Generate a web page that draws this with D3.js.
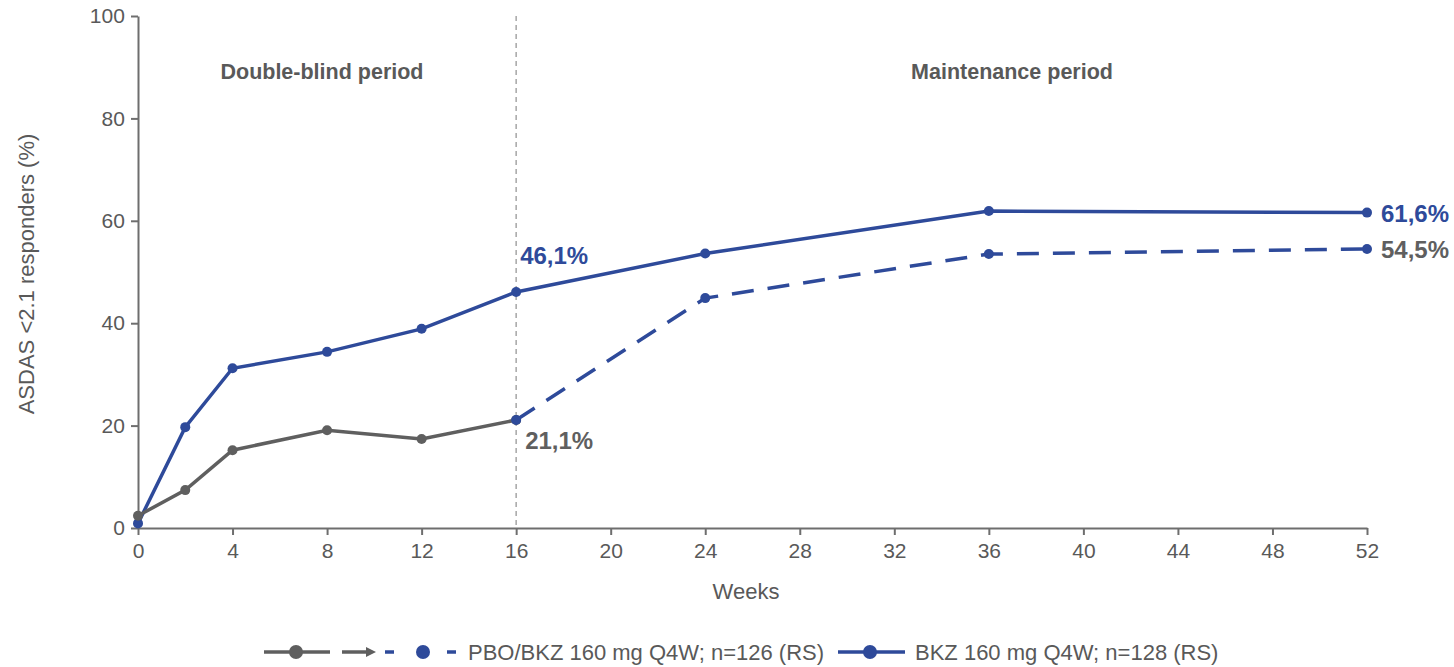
<!DOCTYPE html>
<html>
<head>
<meta charset="utf-8">
<script src="https://cdn.jsdelivr.net/npm/d3@7"></script>
<style>
  body { margin: 0; background: #fff; }
  svg text { font-family: "Liberation Sans", Arial, sans-serif; }
</style>
</head>
<body>
<div id="chart"></div>
<script>
// data
var weeksBlind = [0, 2, 4, 8, 12, 16];
var pboValues = [2.4, 7.4, 15.2, 19.1, 17.4, 21.1];
var weeksSwitch = [16, 24, 36, 52];
var pboBkzValues = [21.1, 44.9, 53.5, 54.5];
var weeksBkz = [0, 2, 4, 8, 12, 16, 24, 36, 52];
var bkzValues = [0.9, 19.7, 31.2, 34.4, 38.9, 46.1, 53.6, 61.9, 61.6];
var xTicks = [0, 4, 8, 12, 16, 20, 24, 28, 32, 36, 40, 44, 48, 52];
var yTicks = [0, 20, 40, 60, 80, 100];
var legendLabels = ["PBO/BKZ 160 mg Q4W; n=126 (RS)", "BKZ 160 mg Q4W; n=128 (RS)"];

var blue = "#2e4a9a";
var grey = "#5f5f5f";
var axisGrey = "#6e6e6e";
var textGrey = "#595959";

var width = 1454, height = 667;
var svg = d3.select("#chart").append("svg")
    .attr("width", width)
    .attr("height", height);

var x = d3.scaleLinear().domain([0, 52]).range([138, 1367]);
var y = d3.scaleLinear().domain([0, 100]).range([528, 16]);

// axes
var xAxis = d3.axisBottom(x).tickValues(xTicks).tickSize(7).tickSizeOuter(0);
var yAxis = d3.axisLeft(y).tickValues(yTicks).tickSize(7).tickSizeOuter(0);

var gx = svg.append("g").attr("transform", "translate(0," + y(0) + ")").call(xAxis);
var gy = svg.append("g").attr("transform", "translate(" + x(0) + ",0)").call(yAxis);
[gx, gy].forEach(function(g){
    g.select(".domain").attr("stroke", axisGrey).attr("stroke-width", 2);
    g.selectAll(".tick line").attr("stroke", axisGrey).attr("stroke-width", 2);
    g.selectAll(".tick text").attr("fill", textGrey).attr("font-size", 21);
});
gx.selectAll(".tick text").attr("dy", "0.95em");
gy.selectAll(".tick text").attr("dx", "-0.15em");

svg.append("text").text("Weeks")
    .attr("x", 746).attr("y", 599)
    .attr("text-anchor", "middle")
    .attr("fill", textGrey).attr("font-size", 22);
svg.append("text").text("ASDAS <2.1 responders (%)")
    .attr("transform", "translate(34," + (y(50) + 2) + ") rotate(-90)")
    .attr("text-anchor", "middle")
    .attr("fill", textGrey).attr("font-size", 22);

// separator at week 16
svg.append("line")
    .attr("x1", x(16)).attr("x2", x(16))
    .attr("y1", y(100)).attr("y2", y(0))
    .attr("stroke", "#a6a6a6").attr("stroke-width", 1.5)
    .attr("stroke-dasharray", "5,4");

svg.append("text").text("Double-blind period")
    .attr("x", 322).attr("y", 79)
    .attr("text-anchor", "middle").attr("font-weight", "bold")
    .attr("fill", textGrey).attr("font-size", 21.5);
svg.append("text").text("Maintenance period")
    .attr("x", 1012).attr("y", 79)
    .attr("text-anchor", "middle").attr("font-weight", "bold")
    .attr("fill", textGrey).attr("font-size", 21.5);

var line = d3.line()
    .x(function(d){ return x(d[0]); })
    .y(function(d){ return y(d[1]); });

function drawSeries(weeks, values, color, dash){
    var pts = weeks.map(function(w, i){ return [w, values[i]]; });
    svg.append("path").datum(pts)
        .attr("d", line)
        .attr("fill", "none")
        .attr("stroke", color)
        .attr("stroke-width", 3.5)
        .attr("stroke-dasharray", dash);
    svg.append("g").selectAll("circle").data(pts).enter()
        .append("circle")
        .attr("cx", function(d){ return x(d[0]); })
        .attr("cy", function(d){ return y(d[1]); })
        .attr("r", 5)
        .attr("fill", color);
}

drawSeries(weeksBkz, bkzValues, blue, null);
drawSeries(weeksBlind, pboValues, grey, null);
drawSeries(weeksSwitch, pboBkzValues, blue, "22,14");

// value labels
function valueLabel(txt, xv, yv, dx, dy, color){
    svg.append("text").text(txt)
        .attr("x", x(xv) + dx).attr("y", y(yv) + dy)
        .attr("fill", color).attr("font-weight", "bold").attr("font-size", 24);
}
valueLabel("46,1%", 16, bkzValues[5], 4, -28, blue);
valueLabel("21,1%", 16, pboValues[5], 9, 29, grey);
valueLabel("61,6%", 52, bkzValues[8], 14, 9, blue);
valueLabel("54,5%", 52, pboBkzValues[3], 14, 9, grey);

// legend
var ly = 652;
var leg = svg.append("g");
leg.append("line").attr("x1", 264).attr("x2", 330).attr("y1", ly).attr("y2", ly)
    .attr("stroke", grey).attr("stroke-width", 3.5);
leg.append("circle").attr("cx", 296).attr("cy", ly).attr("r", 7).attr("fill", grey);
leg.append("line").attr("x1", 342).attr("x2", 368).attr("y1", ly).attr("y2", ly)
    .attr("stroke", grey).attr("stroke-width", 3.5);
leg.append("path").attr("d", "M366," + (ly - 5) + " L376," + ly + " L366," + (ly + 5) + " Z")
    .attr("fill", grey);
leg.append("line").attr("x1", 385).attr("x2", 394).attr("y1", ly).attr("y2", ly)
    .attr("stroke", blue).attr("stroke-width", 3.5);
leg.append("circle").attr("cx", 423).attr("cy", ly).attr("r", 7).attr("fill", blue);
leg.append("line").attr("x1", 447).attr("x2", 456).attr("y1", ly).attr("y2", ly)
    .attr("stroke", blue).attr("stroke-width", 3.5);
leg.append("text").text(legendLabels[0])
    .attr("x", 468).attr("y", ly + 7.5)
    .attr("fill", textGrey).attr("font-size", 22);

leg.append("line").attr("x1", 838).attr("x2", 905).attr("y1", ly).attr("y2", ly)
    .attr("stroke", blue).attr("stroke-width", 3.5);
leg.append("circle").attr("cx", 870).attr("cy", ly).attr("r", 7).attr("fill", blue);
leg.append("text").text(legendLabels[1])
    .attr("x", 915).attr("y", ly + 7.5)
    .attr("fill", textGrey).attr("font-size", 22);
</script>
</body>
</html>
